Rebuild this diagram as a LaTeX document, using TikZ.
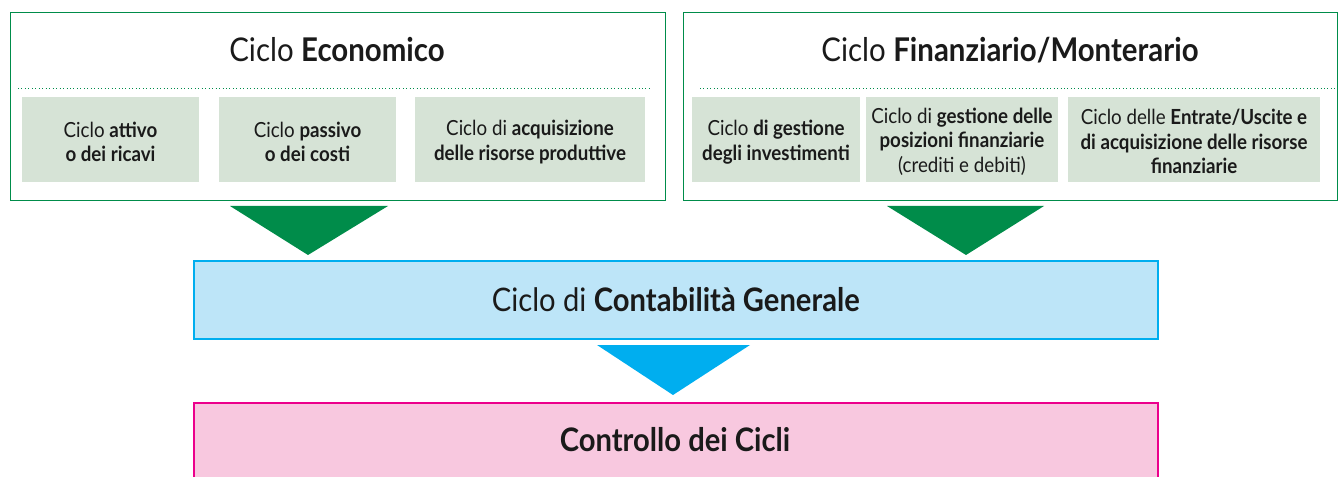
\documentclass[tikz,border=0pt]{standalone}
\usepackage{fontspec}
\setmainfont{Lato}[FakeStretch=0.9]
\definecolor{ggreen}{HTML}{008C4A}
\definecolor{subfill}{HTML}{D6E3D6}
\definecolor{bblue}{HTML}{00AEEF}
\definecolor{bfill}{HTML}{BDE5F8}
\definecolor{pborder}{HTML}{EC008C}
\definecolor{pfill}{HTML}{F8C8DF}
\definecolor{txt}{HTML}{1A1A1A}
\begin{document}
\begin{tikzpicture}[x=0.75pt,y=-0.75pt,
  outerbox/.style={draw=ggreen,line width=0.9pt,fill=white},
  subbox/.style={fill=subfill,draw=none,minimum height=85*0.75pt},
  subtxt/.style={text=txt,align=center,inner sep=0pt,font=\fontsize{15.6}{18.3}\selectfont},
  titletxt/.style={text=txt,font=\fontsize{24.5}{28}\selectfont},
  dotline/.style={draw=ggreen,dotted,line width=0.6pt},
  bigbox/.style={line width=1.2pt,text=txt,font=\fontsize{24.3}{28}\selectfont}
]
\useasboundingbox (0,0) rectangle (1338,477);
% outer boxes
\node[outerbox,minimum width=655*0.75pt,minimum height=188*0.75pt,anchor=north west,inner sep=0pt] (eco) at (10,12) {};
\node[outerbox,minimum width=654*0.75pt,minimum height=188*0.75pt,anchor=north west,inner sep=0pt] (fin) at (683,12) {};
\node[titletxt] (ecot) at (337,50) {Ciclo \textbf{Economico}};
\node[titletxt] (fint) at (1010,50) {Ciclo \textbf{Finanziario/Monterario}};
\draw[dotline] (18,88) -- (650,88);
\draw[dotline] (700,88) -- (1335,88);
% sub boxes
\node[subbox,minimum width=177*0.75pt] (e1) at (110.5,139.5) {};
\node[subbox,minimum width=177*0.75pt] (e2) at (307.5,139.5) {};
\node[subbox,minimum width=230*0.75pt] (e3) at (530,139.5) {};
\node[subbox,minimum width=168*0.75pt] (f1) at (776,139.5) {};
\node[subbox,minimum width=192*0.75pt] (f2) at (962,139.5) {};
\node[subbox,minimum width=252*0.75pt] (f3) at (1194,139.5) {};
\node[subtxt] (e1t) at ([yshift=-2.5*0.75pt]e1.center) {Ciclo \textbf{attivo}\\\textbf{o dei ricavi}};
\node[subtxt] (e2t) at ([yshift=-2.5*0.75pt]e2.center) {Ciclo \textbf{passivo}\\\textbf{o dei costi}};
\node[subtxt] (e3t) at ([yshift=-2.5*0.75pt]e3.center) {Ciclo di \textbf{acquisizione}\\\textbf{delle risorse produttive}};
\node[subtxt] (f1t) at ([yshift=-2.5*0.75pt]f1.center) {Ciclo \textbf{di gestione}\\\textbf{degli investimenti}};
\node[subtxt] (f2t) at ([yshift=-2*0.75pt]f2.center) {Ciclo di \textbf{gestione delle}\\\textbf{posizioni finanziarie}\\(crediti e debiti)};
\node[subtxt] (f3t) at ([yshift=-2*0.75pt]f3.center) {Ciclo delle \textbf{Entrate/Uscite e}\\\textbf{di acquisizione delle risorse}\\\textbf{finanziarie}};
% central boxes
\node[bigbox,draw=bblue,fill=bfill,minimum width=964*0.75pt,minimum height=78*0.75pt,anchor=north west,inner sep=0pt] (cg) at (193,260) {Ciclo di \textbf{Contabilità Generale}};
\node[bigbox,draw=pborder,fill=pfill,minimum width=964*0.75pt,minimum height=80*0.75pt,anchor=north west,inner sep=0pt] (cc) at (193,402) {};
\node[bigbox] (cct) at (675,440) {\textbf{Controllo dei Cicli}};
% arrow triangles
\coordinate (a1) at (308,255);
\coordinate (a2) at (966,255);
\coordinate (a3) at (673,395);
\fill[ggreen] (230,206) -- (388,206) -- (a1) -- cycle;
\fill[ggreen] (887,206) -- (1044,206) -- (a2) -- cycle;
\fill[bblue] (597,345) -- (750,345) -- (a3) -- cycle;
\end{tikzpicture}
\end{document}
